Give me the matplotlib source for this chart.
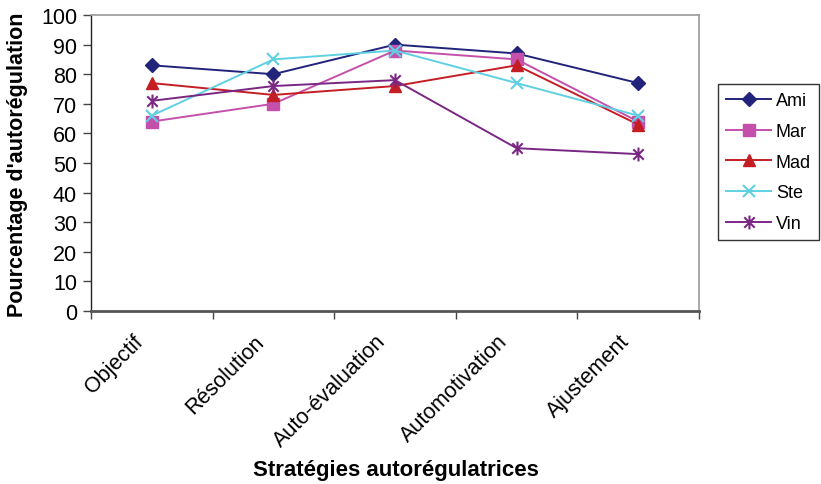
import matplotlib
matplotlib.use("Agg")
import matplotlib.pyplot as plt
import matplotlib.transforms as mtransforms
from matplotlib.path import Path
import numpy as np

plt.rcParams['font.family'] = ['Liberation Sans', 'DejaVu Sans']

categories = ["Objectif", "Résolution", "Auto-évaluation", "Automotivation", "Ajustement"]
ami = [83, 80, 90, 87, 77]
mar = [64, 70, 88, 85, 64]
mad = [77, 73, 76, 83, 63]
ste = [66, 85, 88, 77, 66]
vin = [71, 76, 78, 55, 53]
series_names = ["Ami", "Mar", "Mad", "Ste", "Vin"]
y_ticks = [0, 10, 20, 30, 40, 50, 60, 70, 80, 90, 100]

# asterisk marker: vertical bar plus an X
star = Path(
    [(0, -1), (0, 1), (-0.75, -0.75), (0.75, 0.75), (-0.75, 0.75), (0.75, -0.75)],
    [Path.MOVETO, Path.LINETO, Path.MOVETO, Path.LINETO, Path.MOVETO, Path.LINETO],
)

styles = [
    dict(color="#22237A", marker="D", ms=7),
    dict(color="#C450AC", marker="s", ms=8),
    dict(color="#C41E24", marker="^", ms=8),
    dict(color="#5FD0E2", marker="x", ms=9, mew=1.5),
    dict(color="#7A2784", marker=star, ms=10, mew=1.5),
]

fig = plt.figure(figsize=(8.21, 4.85), dpi=100)
ax = fig.add_axes([91 / 821, 1 - 312 / 485, 608 / 821, 296 / 485])

x = np.arange(len(categories))
for name, vals, st in zip(series_names, [ami, mar, mad, ste, vin], styles):
    ax.plot(x, vals, label=name, lw=1.4, **st)

ax.set_xlim(-0.5, len(categories) - 0.5)
ax.set_ylim(0, 100)
ax.set_yticks(y_ticks)
ax.set_yticklabels([str(v) for v in y_ticks], fontsize=15.5)

# boundaries between categories get tick marks; category names sit under the centres
ax.set_xticks(np.arange(-0.5, len(categories)), labels=[""] * (len(categories) + 1))
label_offset = mtransforms.ScaledTranslation(-12 / 100, -27 / 100, fig.dpi_scale_trans)
for xi, name in zip(x, categories):
    ax.text(xi, 0, name, transform=ax.get_xaxis_transform() + label_offset,
            rotation=45, ha="right", va="center", rotation_mode="anchor",
            fontsize=15.5, clip_on=False)
ax.tick_params(axis="x", which="major", length=6, width=1, color="#444444", direction="out")
ax.tick_params(axis="y", length=6, width=1, color="#444444", direction="out", pad=4)

for side in ["top", "right"]:
    ax.spines[side].set_color("#9a9a9a")
    ax.spines[side].set_linewidth(1.2)
ax.spines["left"].set_color("#222222")
ax.spines["left"].set_linewidth(1.0)
ax.spines["bottom"].set_color("#555555")
ax.spines["bottom"].set_linewidth(2.0)

fig.text(18 / 821, 1 - 165 / 485, "Pourcentage d'autorégulation", fontsize=15.5,
         fontweight="bold", rotation=90, ha="center", va="center")
fig.text(396 / 821, 1 - 471 / 485, "Stratégies autorégulatrices", fontsize=16,
         fontweight="bold", ha="center", va="center")

leg = fig.legend(loc="upper left", bbox_to_anchor=(718 / 821, 1 - 85 / 485),
                 fontsize=13, frameon=True, fancybox=False, edgecolor="black",
                 handlelength=2.5, labelspacing=0.76, borderpad=0.45,
                 handletextpad=0.25, borderaxespad=0)
leg.get_frame().set_linewidth(1.0)

fig.savefig("out.png", dpi=100)
